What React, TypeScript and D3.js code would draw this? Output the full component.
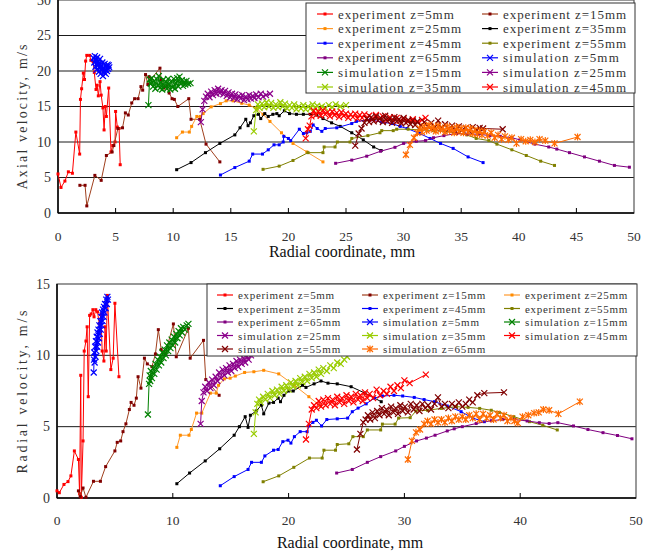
import * as d3 from 'd3';
import React from 'react';

// ---- top panel: axial velocity [radial mm, m/s] ----
const axExp5 = [[0,5.5],[0.26,3.6],[0.6,4.5],[0.9,5.8],[1.25,5.6],[1.55,11.4],[1.88,8.3],[1.95,16],[2.05,17.5],[2.2,19.7],[2.3,18.8],[2.4,21.4],[2.5,22.2],[2.75,22.2],[2.85,21.5],[3.05,21.3],[3.15,19.8],[3.3,17.4],[3.4,18],[3.5,16.5],[3.65,18.5],[3.75,16.6],[3.9,14.8],[4.0,11.7],[4.1,15],[4.2,13.6],[4.4,17.6],[4.6,8.6],[4.75,9.5],[4.95,10],[5.0,14.3],[5.15,12.1],[5.3,11.9],[5.4,6.8]];
const axExp15 = [[1.9,3.9],[2.35,3.9],[2.5,1.0],[3.2,5.3],[3.75,4.6],[4.2,8.1],[4.7,8.6],[4.85,9.5],[5.2,11.9],[5.6,12.0],[5.85,14.1],[6.1,13.8],[6.4,15.5],[6.65,16.1],[6.95,16.1],[7.2,17.8],[7.35,17.3],[7.6,19.5],[7.8,18.1],[7.9,19.2],[8.1,18.9],[8.85,20.4],[8.95,18.8],[9.2,17.6],[9.45,17.9],[9.65,16.9],[9.9,16.1],[10.1,16.0],[10.4,15.0],[11.35,16.1],[11.55,13.2],[12.3,13.2],[12.85,9.7],[14.05,7.2]];
const axExp25 = [[10.3,10.6],[10.8,11.4],[11.4,11.4],[11.6,12.2],[12.05,13.6],[12.35,13.6],[12.6,14.0],[13.3,14.95],[14.1,15.4],[14.6,15.8],[15.2,15.8],[15.95,15.45],[16.6,15.2],[17.25,14.7],[17.8,13.9],[18.4,12.9],[19.4,11.3],[20.4,9.8],[21.6,8.6],[23.0,7.2]];
const axExp35 = [[10.3,6.1],[11.55,7.1],[12.8,8.5],[14.05,9.8],[15.35,11.0],[15.8,12.0],[16.3,13.2],[16.5,12.3],[16.7,12.7],[17.0,13.7],[17.4,13.9],[17.6,13.3],[17.95,14.0],[18.25,13.6],[18.65,13.9],[19.0,14.0],[19.2,13.7],[19.65,14.4],[20.1,14.0],[20.7,13.9],[21.3,13.9],[21.9,13.9],[22.45,13.8],[23.0,13.3],[23.75,12.7],[24.5,12.2],[25.5,11.3],[26.5,10.3],[27.4,9.3],[28.05,8.8]];
const axExp45 = [[14.1,5.35],[15.35,6.4],[16.6,7.3],[16.9,8.3],[17.75,8.3],[18.25,8.9],[18.75,9.6],[19.2,9.6],[19.55,10.0],[19.6,10.8],[20.0,10.5],[20.2,10.2],[20.95,11.8],[21.3,11.2],[21.6,11.3],[21.9,11.5],[22.15,12.4],[22.5,11.9],[22.9,11.5],[23.2,11.9],[24.2,12.0],[25.5,12.6],[25.9,12.9],[27.1,13.1],[28.1,12.8],[29.0,12.6],[29.7,12.2],[30.3,11.9],[31.4,11.2],[32.3,10.5],[33.2,9.8],[34.3,9.1],[35.6,7.9],[36.9,7.1]];
const axExp55 = [[17.8,6.15],[19.2,6.6],[20.4,7.4],[21.7,8.5],[23.0,8.5],[23.1,9.3],[24.05,9.3],[24.25,10.0],[25.35,10.0],[25.5,10.5],[26.9,10.9],[27.95,11.3],[28.1,11.6],[29.1,11.6],[29.4,11.8],[30.4,11.8],[31.5,11.7],[32.6,11.6],[33.6,11.5],[34.5,11.3],[35.5,11.0],[36.3,10.5],[37.4,10.2],[38.1,9.7],[39.4,8.9],[40.65,8.1],[41.9,7.3],[43.1,6.7]];
const axExp65 = [[24.1,7.0],[25.5,7.45],[26.8,8.0],[28.0,8.7],[29.25,9.25],[30.0,9.8],[31.1,10.1],[31.9,10.2],[32.6,10.6],[33.5,10.9],[34.6,11.2],[35.5,11.1],[36.5,11.1],[37.5,10.9],[38.4,10.8],[39.4,10.6],[40.1,10.3],[41.4,9.7],[42.6,9.3],[43.3,9.0],[44.4,8.5],[45.7,7.9],[47.0,7.3],[48.3,6.7],[49.6,6.45]];
const axSim5 = [[3.1,21.8],[3.15,21.2],[3.2,22.1],[3.25,20.6],[3.3,21.6],[3.35,20.2],[3.4,21.9],[3.45,20.9],[3.5,21.4],[3.55,19.9],[3.6,21.0],[3.62,20.4],[3.65,21.7],[3.7,19.6],[3.75,20.8],[3.8,20.1],[3.85,21.2],[3.9,19.3],[3.95,20.5],[4.0,19.8],[4.05,21.0],[4.1,20.2],[4.15,19.6],[4.2,20.7],[4.25,20.0],[4.3,20.9],[4.35,20.3],[4.4,20.8],[4.45,20.5]];
const axSim15 = [[7.85,15.2],[7.95,18.8],[8.05,18.2],[8.15,19.0],[8.25,17.8],[8.35,18.6],[8.45,17.5],[8.55,18.9],[8.65,18.0],[8.75,19.3],[8.85,17.6],[8.95,18.4],[9.05,17.4],[9.15,18.8],[9.25,17.9],[9.35,18.5],[9.45,17.5],[9.55,18.9],[9.65,18.1],[9.75,17.4],[9.85,18.6],[9.95,17.7],[10.05,18.9],[10.15,17.5],[10.25,18.3],[10.35,19.0],[10.45,17.8],[10.55,19.2],[10.65,18.2],[10.75,18.7],[10.85,17.9],[10.95,18.5],[11.05,18.1],[11.15,18.6],[11.3,18.2],[11.5,18.3]];
const axSim25 = [[12.4,12.8],[12.55,14.6],[12.7,15.8],[12.85,16.4],[13.0,16.8],[13.15,16.3],[13.3,17.1],[13.45,16.6],[13.6,17.3],[13.75,16.8],[13.9,17.5],[14.05,16.9],[14.2,17.3],[14.35,16.7],[14.5,17.2],[14.65,16.5],[14.8,17.0],[14.95,16.3],[15.1,16.8],[15.25,16.2],[15.4,16.7],[15.55,16.0],[15.7,16.5],[15.85,16.1],[16.0,16.6],[16.15,15.9],[16.3,16.4],[16.45,16.0],[16.6,16.6],[16.75,16.1],[16.9,16.5],[17.05,16.2],[17.2,16.7],[17.4,16.3],[17.6,16.8],[17.8,16.4],[18.05,16.6],[18.4,16.8]];
const axSim35 = [[17.0,11.5],[17.2,14.5],[17.35,15.3],[17.5,14.8],[17.7,15.4],[17.9,14.9],[18.1,15.6],[18.3,15.0],[18.5,15.5],[18.7,14.8],[18.9,15.3],[19.1,14.9],[19.3,15.6],[19.5,15.0],[19.7,15.4],[19.9,14.7],[20.1,15.2],[20.3,14.8],[20.5,15.3],[20.7,14.6],[20.9,15.0],[21.1,14.7],[21.3,15.2],[21.5,14.6],[21.7,15.0],[21.9,14.7],[22.1,15.3],[22.3,14.8],[22.5,15.1],[22.7,14.7],[22.9,15.0],[23.2,14.8],[23.5,15.2],[23.8,14.9],[24.1,15.3],[24.5,15.0],[25.0,15.2]];
const axSim45 = [[21.5,10.5],[21.7,11.8],[21.85,12.3],[22.0,13.6],[22.2,14.4],[22.4,13.8],[22.6,14.3],[22.8,13.7],[23.0,14.5],[23.2,13.9],[23.4,14.2],[23.6,13.6],[23.8,14.3],[24.0,13.8],[24.2,14.1],[24.4,13.5],[24.6,14.2],[24.8,13.7],[25.0,14.0],[25.2,13.4],[25.4,13.9],[25.6,13.5],[25.8,14.0],[26.0,13.3],[26.2,13.8],[26.4,13.4],[26.6,13.9],[26.8,13.3],[27.0,13.7],[27.3,13.2],[27.6,13.8],[27.9,13.3],[28.2,13.6],[28.5,13.1],[28.8,13.5],[29.1,13.0],[29.4,13.4],[29.7,13.0],[30.0,13.3],[30.4,12.9],[30.8,13.2],[31.2,12.8],[31.6,13.1],[31.9,13.4]];
const axSim55 = [[25.8,9.5],[26.1,11.2],[26.35,11.9],[26.6,12.7],[26.8,13.3],[27.0,12.8],[27.2,13.5],[27.4,12.9],[27.6,13.6],[27.8,13.0],[28.0,13.4],[28.2,12.8],[28.4,13.7],[28.6,12.9],[28.8,13.3],[29.0,12.7],[29.2,13.5],[29.4,12.9],[29.6,13.2],[29.8,12.6],[30.0,13.4],[30.2,12.7],[30.4,13.1],[30.6,12.5],[30.8,13.0],[31.0,12.4],[31.2,12.9],[31.5,12.3],[31.8,12.8],[32.1,12.2],[32.4,12.7],[32.7,12.1],[33.0,13.0],[33.3,12.0],[33.6,12.5],[33.9,11.8],[34.2,12.3],[34.5,11.6],[34.8,12.2],[35.1,11.7],[35.4,12.0],[35.7,11.5],[36.0,12.1],[36.3,11.7],[36.6,12.0],[36.9,11.9],[38.6,11.8]];
const axSim65 = [[30.2,8.2],[30.55,9.6],[30.9,10.6],[31.2,11.3],[31.4,11.9],[31.6,11.4],[31.8,12.2],[32.0,11.6],[32.2,12.4],[32.4,11.8],[32.6,12.1],[32.8,11.5],[33.0,12.3],[33.2,11.7],[33.4,12.0],[33.6,11.4],[33.8,12.2],[34.0,11.6],[34.2,11.9],[34.4,11.3],[34.6,12.1],[34.8,11.5],[35.0,11.9],[35.2,11.3],[35.4,12.0],[35.6,11.4],[35.8,11.9],[36.0,11.2],[36.2,11.7],[36.4,11.1],[36.6,11.6],[36.8,11.0],[37.0,11.5],[37.3,10.9],[37.6,11.3],[37.9,10.6],[38.2,11.0],[38.5,10.4],[38.8,10.8],[39.1,10.3],[39.4,10.6],[39.8,9.8],[40.2,10.4],[40.6,10.1],[41.0,10.3],[41.4,10.0],[41.8,10.4],[42.3,10.2],[43.1,9.8],[45.1,10.7]];

// ---- bottom panel: radial velocity ----
const raExp5 = [[0,0.5],[0.2,0.37],[0.6,0.95],[0.95,1.15],[1.2,1.55],[1.5,3.3],[1.85,2.7],[1.95,0.3],[2.05,8.6],[2.1,0.05],[2.25,4.0],[2.35,10.3],[2.5,11.0],[2.6,12.0],[2.7,7.1],[2.82,12.8],[2.95,12.9],[3.1,13.2],[3.2,12.7],[3.35,13.2],[3.5,13.05],[3.65,12.2],[3.8,12.9],[3.9,10.3],[4.05,9.6],[4.15,12.0],[4.25,10.3],[4.35,14.2],[4.65,9.0],[4.85,9.8],[5.0,13.65],[5.35,8.5]];
const raExp15 = [[1.85,0.5],[2.0,0.1],[2.25,0.7],[2.5,0.05],[3.15,1.17],[3.75,1.17],[4.2,2.2],[5.0,3.3],[5.2,3.9],[5.5,4.0],[5.7,4.65],[5.95,5.2],[6.25,6.2],[6.4,6.7],[6.65,6.5],[6.85,7.0],[7.0,8.5],[7.25,7.7],[7.55,9.8],[7.8,9.4],[8.2,9.2],[8.5,10.1],[8.75,11.8],[9.0,10.4],[9.35,10.1],[10.05,12.2],[10.3,9.9],[11.35,11.9],[11.5,9.8],[12.65,11.05],[12.85,8.3],[14.0,7.2]];
const raExp25 = [[10.35,3.55],[10.65,4.4],[11.4,4.4],[11.6,4.8],[12.05,5.95],[12.5,5.95],[13.25,7.35],[13.75,7.35],[13.95,7.9],[14.45,8.35],[14.95,8.4],[15.4,8.55],[16.2,8.8],[17.0,8.85],[17.85,8.95],[19.15,8.7],[20.5,7.9],[21.75,7.1],[22.75,6.45]];
const raExp35 = [[10.35,1.0],[11.45,1.75],[12.8,2.6],[14.05,3.45],[15.3,4.4],[15.75,5.0],[16.25,5.7],[16.5,4.95],[16.7,5.8],[17.2,6.1],[17.65,6.5],[17.85,5.9],[18.3,6.65],[18.7,6.7],[19.1,7.0],[19.3,6.75],[19.6,7.2],[20.0,7.5],[20.4,7.5],[21.2,7.9],[21.5,7.75],[22.2,8.0],[22.8,8.2],[23.4,8.05],[24.2,8.0],[25.4,7.8],[26.6,7.35],[28.0,6.75]];
const raExp45 = [[14.1,0.86],[15.3,1.5],[16.5,2.0],[16.8,2.5],[17.65,2.5],[17.95,2.95],[18.7,3.35],[19.1,3.4],[19.5,3.95],[19.95,4.05],[20.2,3.85],[20.5,4.3],[21.0,4.65],[21.6,4.65],[21.75,5.05],[22.1,5.3],[22.4,5.45],[22.85,5.05],[23.3,5.5],[24.2,5.55],[25.1,5.6],[25.5,6.05],[26.0,6.3],[26.7,6.6],[27.4,7.0],[28.1,7.15],[29.1,7.2],[29.85,7.15],[30.85,7.05],[31.7,6.9],[32.6,6.75],[33.7,6.45],[34.9,6.05],[35.9,5.6],[36.9,5.35]];
const raExp55 = [[17.8,1.14],[19.15,1.55],[20.45,2.15],[21.8,2.8],[22.9,2.8],[23.05,3.35],[24.05,3.35],[24.2,3.75],[25.2,3.8],[25.55,4.3],[26.45,4.3],[26.8,4.77],[27.95,4.77],[28.1,5.18],[29.2,5.18],[29.5,5.6],[30.5,5.63],[31.0,6.1],[32.0,6.15],[33.2,6.28],[34.5,6.4],[35.5,6.35],[36.5,6.28],[37.5,6.15],[38.2,6.0],[39.45,5.7],[40.8,5.35],[41.95,5.1],[43.2,4.77]];
const raExp65 = [[24.15,1.75],[25.5,2.0],[26.8,2.5],[27.95,2.9],[29.25,3.3],[30.0,3.62],[31.05,4.0],[31.9,4.2],[32.65,4.4],[33.7,4.7],[34.3,4.85],[35.0,5.0],[36.2,5.22],[37.5,5.42],[38.5,5.5],[39.5,5.5],[40.6,5.4],[41.65,5.28],[42.5,5.22],[43.25,5.28],[44.6,5.05],[45.85,4.8],[47.15,4.58],[48.4,4.38],[49.65,4.15]];
const raSim5 = [[3.17,8.8],[3.2,9.7],[3.22,10.2],[3.25,9.5],[3.3,10.6],[3.33,9.9],[3.36,11.0],[3.4,10.3],[3.43,11.3],[3.47,10.6],[3.5,11.6],[3.54,10.9],[3.58,11.8],[3.62,11.2],[3.66,12.1],[3.7,11.5],[3.74,12.4],[3.78,11.8],[3.82,12.7],[3.86,12.1],[3.9,13.0],[3.94,12.4],[3.98,13.2],[4.02,12.7],[4.06,13.4],[4.1,13.0],[4.15,13.6],[4.2,13.3],[4.25,13.9],[4.3,13.6],[4.35,14.1],[4.4,13.9]];
const raSim15 = [[7.85,5.85],[7.95,8.0],[8.0,8.6],[8.05,8.2],[8.1,8.9],[8.2,8.4],[8.3,9.1],[8.4,8.7],[8.5,9.4],[8.6,9.0],[8.7,9.7],[8.8,9.3],[8.9,9.9],[9.0,9.5],[9.1,10.2],[9.2,9.8],[9.3,10.4],[9.4,10.0],[9.5,10.7],[9.6,10.3],[9.7,10.9],[9.8,10.5],[9.9,11.1],[10.0,10.7],[10.1,11.3],[10.2,10.9],[10.3,11.5],[10.4,11.2],[10.5,11.7],[10.6,11.4],[10.7,11.9],[10.8,11.6],[10.9,12.0],[11.05,11.8],[11.2,12.1],[11.35,12.2]];
const raSim25 = [[12.4,5.2],[12.5,6.8],[12.65,7.4],[12.8,7.8],[12.95,7.5],[13.1,8.1],[13.25,7.7],[13.4,8.3],[13.55,7.9],[13.7,8.5],[13.85,8.2],[14.0,8.8],[14.15,8.4],[14.3,9.0],[14.45,8.6],[14.6,9.1],[14.75,8.8],[14.9,9.3],[15.05,8.9],[15.2,9.4],[15.35,9.1],[15.5,9.6],[15.65,9.2],[15.8,9.7],[15.95,9.4],[16.1,9.8],[16.25,9.5],[16.4,9.9],[16.55,9.7],[16.75,10.0]];
const raSim35 = [[17.0,4.5],[17.15,6.0],[17.3,6.6],[17.45,6.9],[17.6,6.7],[17.8,7.1],[18.0,6.9],[18.2,7.3],[18.4,7.0],[18.6,7.5],[18.8,7.2],[19.0,7.6],[19.2,7.3],[19.4,7.8],[19.6,7.5],[19.8,7.9],[20.0,7.6],[20.2,8.1],[20.4,7.8],[20.6,8.2],[20.8,7.9],[21.0,8.4],[21.2,8.1],[21.4,8.5],[21.6,8.2],[21.8,8.7],[22.0,8.4],[22.2,8.8],[22.4,8.5],[22.6,9.0],[22.8,8.7],[23.0,9.1],[23.3,8.9],[23.6,9.3],[23.9,9.1],[24.2,9.5],[24.5,9.4],[24.8,9.7],[25.05,9.9]];
const raSim45 = [[21.5,4.1],[21.75,5.2],[22.0,6.2],[22.2,6.5],[22.4,6.3],[22.6,6.8],[22.8,6.4],[23.0,6.9],[23.2,6.5],[23.4,7.0],[23.6,6.6],[23.8,6.9],[24.0,6.5],[24.2,7.1],[24.4,6.7],[24.6,7.0],[24.8,6.6],[25.0,7.2],[25.2,6.8],[25.4,7.1],[25.6,6.7],[25.8,7.3],[26.0,6.9],[26.2,7.2],[26.4,6.8],[26.6,7.4],[26.8,7.0],[27.0,7.3],[27.3,7.0],[27.6,7.6],[27.9,7.2],[28.2,7.5],[28.5,7.3],[28.8,7.8],[29.1,7.5],[29.4,7.9],[29.7,7.7],[30.0,8.25],[30.45,8.05],[31.85,8.65]];
const raSim55 = [[25.9,3.4],[26.2,4.5],[26.45,5.3],[26.65,5.5],[26.85,5.8],[27.05,5.5],[27.25,6.0],[27.45,5.6],[27.65,6.1],[27.85,5.8],[28.05,6.3],[28.25,5.9],[28.45,6.2],[28.65,5.8],[28.85,6.4],[29.05,6.0],[29.25,6.3],[29.45,5.9],[29.65,6.5],[29.85,6.1],[30.05,6.4],[30.3,6.0],[30.55,6.6],[30.8,6.2],[31.05,6.5],[31.3,6.1],[31.55,6.6],[31.8,6.3],[32.05,6.5],[32.3,6.2],[32.6,6.6],[32.9,7.05],[33.2,6.4],[33.5,6.6],[33.8,6.3],[34.1,6.6],[34.4,6.4],[34.7,6.7],[35.0,6.4],[35.3,6.6],[35.6,6.9],[35.9,6.7],[36.3,7.2],[36.9,7.35],[38.6,7.4]];
const raSim65 = [[30.3,2.7],[30.65,4.0],[31.0,4.6],[31.35,4.8],[31.7,5.2],[32.0,5.4],[32.3,5.2],[32.6,5.5],[32.9,5.3],[33.2,5.5],[33.5,5.3],[33.8,5.6],[34.1,5.4],[34.4,5.7],[34.7,5.5],[35.0,5.7],[35.3,5.5],[35.6,5.8],[35.9,5.6],[36.2,5.9],[36.5,5.5],[36.8,5.9],[37.1,5.6],[37.4,5.8],[37.7,5.5],[38.0,5.9],[38.3,5.6],[38.6,5.8],[38.9,5.4],[39.2,5.6],[39.5,5.4],[39.8,5.25],[40.2,5.7],[40.7,5.8],[41.2,5.95],[41.6,6.0],[42.0,6.2],[42.5,6.15],[43.3,5.9],[45.15,6.75]];

const seriesNames = ['experiment z=5mm','experiment z=15mm','experiment z=25mm','experiment z=35mm','experiment z=45mm','experiment z=55mm','experiment z=65mm','simulation z=5mm','simulation z=15mm','simulation z=25mm','simulation z=35mm','simulation z=45mm','simulation z=55mm','simulation z=65mm'];
const seriesColors = ['#ff0000','#a0401e','#ff9a2e','#000000','#0000ff','#808000','#800080','#0000ff','#008000','#8b008b','#99cc00','#ff0000','#800000','#ff6a00'];
const markerColors = ['#ff0000','#800000','#ff8c00','#000000','#0000ff','#808000','#800080','#0000ff','#008000','#8b008b','#99cc00','#ff0000','#800000','#ff6a00'];
const markerKinds = ['dot','dot','dot','dot','dot','dot','dot','x','x','x','x','x','x','star'];

const topData = [axExp5, axExp15, axExp25, axExp35, axExp45, axExp55, axExp65, axSim5, axSim15, axSim25, axSim35, axSim45, axSim55, axSim65];
const botData = [raExp5, raExp15, raExp25, raExp35, raExp45, raExp55, raExp65, raSim5, raSim15, raSim25, raSim35, raSim45, raSim55, raSim65];

const W = 670, H = 558;
const SERIF = '"Liberation Serif", "Times New Roman", serif';

function Marker({ kind, x, y, color }) {
  if (kind === 'dot') return <rect x={x - 1.5} y={y - 1.5} width={3} height={3} fill={color} />;
  const s = 3;
  let d = `M${x - s},${y - s}L${x + s},${y + s}M${x - s},${y + s}L${x + s},${y - s}`;
  if (kind === 'star') d += `M${x},${y - s - 0.5}L${x},${y + s + 0.5}`;
  return <path d={d} stroke={color} strokeWidth={1.2} fill="none" />;
}

// legend text is a fixed-pitch CJK-style face in the original; emulate the pitch with textLength
function Legend({ idx, x0, y0, w, h, cols, rowY0, rowStep, fontSize, charW, lineLen }) {
  return (
    <g>
      <rect x={x0} y={y0} width={w} height={h} fill="#fff" stroke="#333" strokeWidth={1} />
      {idx.map((si, k) => {
        const c = k % cols.length, r = Math.floor(k / cols.length);
        const lx = cols[c], ly = rowY0 + r * rowStep;
        const label = seriesNames[si];
        return (
          <g key={si}>
            <line x1={lx} x2={lx + lineLen} y1={ly} y2={ly} stroke={seriesColors[si]} strokeWidth={1.2} />
            <Marker kind={markerKinds[si]} x={lx + lineLen / 2} y={ly} color={markerColors[si]} />
            <text x={lx + lineLen + 5} y={ly} dominantBaseline="central" fontFamily={SERIF} fontSize={fontSize}
              textLength={label.length * charW - 1} lengthAdjust="spacing" fill="#333">{label}</text>
          </g>
        );
      })}
    </g>
  );
}

function Panel({ data, x0, x1, y0, y1, yMax, yStep, xStep, yTitle, yTitleY, yTitleLen, xTitleX, xTitleY, xTickY }) {
  const x = d3.scaleLinear().domain([0, 50]).range([x0, x1]);
  const y = d3.scaleLinear().domain([0, yMax]).range([y1, y0]);
  const line = d3.line<number[]>().x(d => x(d[0])).y(d => y(d[1]));
  const yTicks = d3.range(0, yMax + 0.01, yStep);
  const xTicks = d3.range(0, 50.01, xStep);
  return (
    <g>
      {yTicks.filter(t => t > 0 && t < yMax).map(t => (
        <line key={'g' + t} x1={x0} x2={x1} y1={y(t)} y2={y(t)} stroke="#1a1a1a" strokeWidth={1} />
      ))}
      <rect x={x0} y={y0} width={x1 - x0} height={y1 - y0} fill="none" stroke="#555" strokeWidth={1.2} />
      <line x1={x0} x2={x0} y1={y0} y2={y1} stroke="#000" strokeWidth={1.5} />
      <line x1={x0} x2={x1} y1={y1} y2={y1} stroke="#000" strokeWidth={1.5} />
      {xTicks.filter(t => t > 0 && t < 50).map(t => (
        <line key={'t' + t} x1={x(t)} x2={x(t)} y1={y1} y2={y1 - 5} stroke="#000" strokeWidth={1} />
      ))}
      {data.map((pts, si) => (
        <g key={si}>
          <path d={line(pts) || ''} fill="none" stroke={seriesColors[si]} strokeWidth={1} />
          {pts.map((p, k) => <Marker key={k} kind={markerKinds[si]} x={x(p[0])} y={y(p[1])} color={markerColors[si]} />)}
        </g>
      ))}
      {yTicks.map(t => (
        <text key={'yl' + t} x={x0 - 7} y={y(t)} textAnchor="end" dominantBaseline="central" fontFamily={SERIF} fontSize={14} fill="#333">{t}</text>
      ))}
      {xTicks.map(t => (
        <text key={'xl' + t} x={x(t)} y={xTickY} textAnchor="middle" fontFamily={SERIF} fontSize={13.5} fill="#333">{t}</text>
      ))}
      <text x={xTitleX} y={xTitleY} textAnchor="middle" fontFamily={SERIF} fontSize={16} fill="#111">Radial coordinate, mm</text>
      <text transform={`translate(22,${yTitleY}) rotate(-90)`} textAnchor="middle" dominantBaseline="central" fontFamily={SERIF} fontSize={14}
        textLength={yTitleLen} lengthAdjust="spacing" fill="#333">{yTitle}</text>
    </g>
  );
}

export default function App() {
  const topLegend = [0, 1, 2, 3, 4, 5, 6, 7, 8, 9, 10, 11];
  const botLegend = [0, 1, 2, 3, 4, 5, 6, 7, 8, 9, 10, 11, 12, 13];
  return (
    <svg width={W} height={H} style={{ position: 'absolute', left: 0, top: 0, background: '#fff' }}>
      <Panel data={topData} x0={58} x1={634} y0={0} y1={213} yMax={30} yStep={5} xStep={5}
        yTitle="Axial velocity, m/s" yTitleY={117} yTitleLen={145} xTitleX={342} xTitleY={257} xTickY={241} />
      <Legend idx={topLegend} x0={306} y0={3} w={329} h={90} cols={[317, 482]} rowY0={14} rowStep={14.6} fontSize={13} charW={7.3} lineLen={16} />
      <Panel data={botData} x0={57} x1={636} y0={284} y1={498} yMax={15} yStep={5} xStep={10}
        yTitle="Radial velocity, m/s" yTitleY={392} yTitleLen={163} xTitleX={350} xTitleY={548} xTickY={525} />
      <Legend idx={botLegend} x0={207} y0={284} w={430} h={72} cols={[217, 362, 504]} rowY0={295} rowStep={13.5} fontSize={11} charW={6.07} lineLen={16} />
    </svg>
  );
}
